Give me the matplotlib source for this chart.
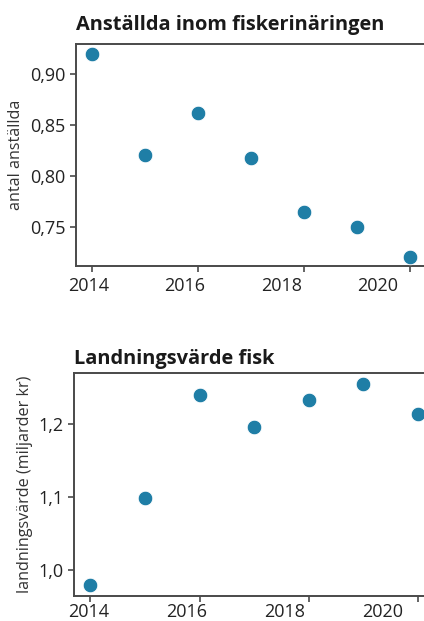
import matplotlib
matplotlib.use("Agg")
import matplotlib.pyplot as plt
from matplotlib.ticker import FuncFormatter, FixedLocator, NullFormatter

# data
years = [2014, 2015, 2016, 2017, 2018, 2019, 2020]
anstallda = [0.919, 0.820, 0.862, 0.818, 0.765, 0.750, 0.721]
landningsvarde = [0.979, 1.098, 1.240, 1.195, 1.232, 1.255, 1.213]

titles = ["Anställda inom fiskerinäringen", "Landningsvärde fisk"]
ylabels = ["antal anställda", "landningsvärde (miljarder kr)"]
xtick_years = [2014, 2016, 2018, 2020]
yticks = [[0.75, 0.80, 0.85, 0.90], [1.0, 1.1, 1.2]]
ylims = [(0.712, 0.929), (0.965, 1.269)]
ydec = [2, 1]

plt.rcParams["font.family"] = ["Open Sans", "DejaVu Sans"]
DOT = "#1f7ea6"
SPINE = "#4a4a4a"

fig = plt.figure(figsize=(4.24, 6.21), dpi=100)
ax_top = fig.add_axes([0.1792, 0.5717, 0.8253, 0.3575])
ax_bot = fig.add_axes([0.1745, 0.0407, 0.8500, 0.3582])

# the year labels in the reference sit a bit left of their tick marks,
# drifting further as the years go on: (start offset, scale) per panel
label_shift = [(2013.943, 0.9065), (2013.963, 0.8975)]
xlabel_pad = [8, 5]


def comma_fmt(dec):
    return FuncFormatter(lambda v, pos: f"{v:.{dec}f}".replace(".", ","))


for i, (ax, vals) in enumerate(zip([ax_top, ax_bot], [anstallda, landningsvarde])):
    ax.scatter(years, vals, s=110, color=DOT, edgecolors="white",
               linewidths=0.6, zorder=3, clip_on=False)
    ax.set_xlim(2013.7, 2020.3)
    ax.set_ylim(*ylims[i])
    ax.xaxis.set_major_locator(FixedLocator(xtick_years))
    ax.xaxis.set_major_formatter(NullFormatter())
    ax.yaxis.set_major_locator(FixedLocator(yticks[i]))
    ax.yaxis.set_major_formatter(comma_fmt(ydec[i]))
    ax.tick_params(axis="both", labelsize=13, colors=SPINE, labelcolor="#222222",
                   length=4, width=1.2)
    for side in ["top", "left", "bottom", "right"]:
        ax.spines[side].set_color(SPINE)
        ax.spines[side].set_linewidth(1.4)
    ax.set_title(titles[i], loc="left", fontsize=14.4, fontweight="bold",
                 color="#1a1a1a", pad=10 if i == 0 else 7)
    ax.set_ylabel(ylabels[i], fontsize=11.6, color="#333333")

    x0, k = label_shift[i]
    sec = ax.secondary_xaxis(
        "bottom",
        functions=(lambda x, x0=x0, k=k: 2014 + (x - x0) / k,
                   lambda y, x0=x0, k=k: x0 + (y - 2014) * k))
    sec.xaxis.set_major_locator(FixedLocator(xtick_years))
    sec.tick_params(axis="x", length=0, pad=xlabel_pad[i], labelsize=13,
                    labelcolor="#222222")
    sec.spines["bottom"].set_visible(False)

ax_top.yaxis.set_label_coords(-0.149, 0.5)
ax_bot.yaxis.set_label_coords(-0.114, 0.5)

fig.savefig("out.png", dpi=100)
